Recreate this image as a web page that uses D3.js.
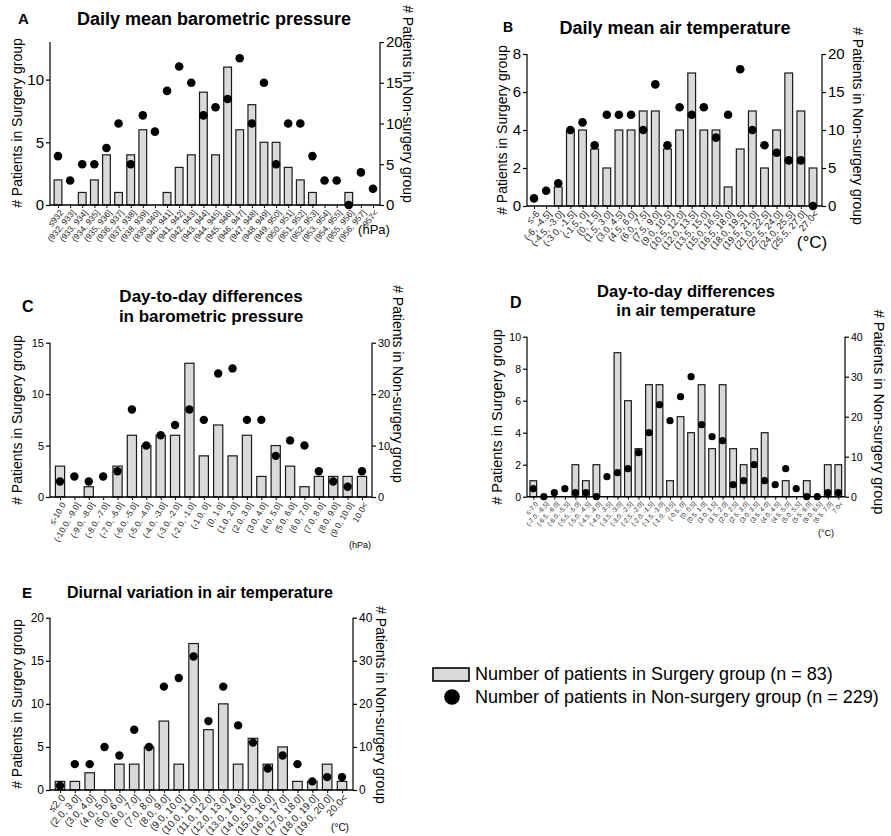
<!DOCTYPE html>
<html>
<head>
<meta charset="utf-8">
<title>Weather and patients</title>
<script src="https://cdn.jsdelivr.net/npm/d3@7"></script>
<style>
  body { margin: 0; background: #fff; }
  svg { font-family: "Liberation Sans", Arial, sans-serif; }
</style>
</head>
<body>
<svg id="chart" width="891" height="836"></svg>
<script>
// A: daily mean barometric pressure
var catsA = ["≤932", "(932, 933]", "(933, 934]", "(934, 935]", "(935, 936]", "(936, 937]", "(937, 938]",
  "(938, 939]", "(939, 940]", "(940, 941]", "(941, 942]", "(942, 943]", "(943, 944]", "(944, 945]",
  "(945, 946]", "(946, 947]", "(947, 948]", "(948, 949]", "(949, 950]", "(950, 951]", "(951, 952]",
  "(952, 953]", "(953, 954]", "(954, 955]", "(955, 956]", "(956, 957]", "957<"];
var surgeryA = [2, 0, 1, 2, 4, 1, 4, 6, 0, 1, 3, 4, 9, 4, 11, 6, 8, 5, 5, 3, 2, 1, 0, 0, 1, 0, 0];
var nonSurgeryA = [6, 3, 5, 5, 7, 10, 5, 11, 9, 14, 17, 15, 11, 12, 13, 18, 10, 15, 5, 10, 10, 6, 3, 3, 0, 4, 2];

// B: daily mean air temperature
var catsB = ["≤-6", "(-6, -4.5]", "(-4.5, -3.0]", "(-3.0, -1.5]", "(-1.5, 0]", "(0, 1.5]", "(1.5, 3.0]",
  "(3.0, 4.5]", "(4.5, 6.0]", "(6.0, 7.5]", "(7.5, 9.0]", "(9.0, 10.5]", "(10.5, 12.0]", "(12.0, 13.5]",
  "(13.5, 15.0]", "(15.0, 16.5]", "(16.5, 18.0]", "(18.0, 19.5]", "(19.5, 21.0]", "(21.0, 22.5]",
  "(22.5, 24.0]", "(24.0, 25.5]", "(25.5, 27.0]", "27.0<"];
var surgeryB = [0, 0, 1, 4, 4, 3, 2, 4, 4, 5, 5, 3, 4, 7, 4, 4, 1, 3, 5, 2, 4, 7, 5, 2];
var nonSurgeryB = [1, 2, 3, 10, 11, 8, 12, 12, 12, 10, 16, 8, 13, 12, 13, 9, 12, 18, 10, 8, 7, 6, 6, 0];

// C: day-to-day differences in barometric pressure
var catsC = ["≤-10.0", "(-10.0, -9.0]", "(-9.0, -8.0]", "(-8.0, -7.0]", "(-7.0, -6.0]", "(-6.0, -5.0]",
  "(-5.0, -4.0]", "(-4.0, -3.0]", "(-3.0, -2.0]", "(-2.0, -1.0]", "(-1.0, 0]", "(0, 1.0]", "(1.0, 2.0]",
  "(2.0, 3.0]", "(3.0, 4.0]", "(4.0, 5.0]", "(5.0, 6.0]", "(6.0, 7.0]", "(7.0, 8.0]", "(8.0, 9.0]",
  "(9.0, 10.0]", "10.0<"];
var surgeryC = [3, 0, 1, 0, 3, 6, 5, 6, 6, 13, 4, 7, 4, 6, 2, 5, 3, 1, 2, 2, 2, 2];
var nonSurgeryC = [3, 4, 3, 4, 5, 17, 10, 12, 14, 17, 15, 24, 25, 15, 15, 8, 11, 10, 5, 3, 2, 5];

// D: day-to-day differences in air temperature
var catsD = ["≤-7.0", "(-7.0, -6.5]", "(-6.5, -6.0]", "(-6.0, -5.5]", "(-5.5, -5.0]", "(-5.0, -4.5]",
  "(-4.5, -4.0]", "(-4.0, -3.5]", "(-3.5, -3.0]", "(-3.0, -2.5]", "(-2.5, -2.0]", "(-2.0, -1.5]",
  "(-1.5, -1.0]", "(-1.0, -0.5]", "(-0.5, 0]", "(0, 0.5]", "(0.5, 1.0]", "(1.0, 1.5]", "(1.5, 2.0]",
  "(2.0, 2.5]", "(2.5, 3.0]", "(3.0, 3.5]", "(3.5, 4.0]", "(4.0, 4.5]", "(4.5, 5.0]", "(5.0, 5.5]",
  "(5.5, 6.0]", "(6.0, 6.5]", "(6.5, 7.0]", "7.0<"];
var surgeryD = [1, 0, 0, 0, 2, 1, 2, 0, 9, 6, 3, 7, 7, 1, 5, 4, 7, 3, 7, 3, 2, 3, 4, 0, 1, 0, 1, 0, 2, 2];
var nonSurgeryD = [2, 0, 1, 2, 1, 1, 0, 5, 6, 7, 11, 16, 23, 19, 25, 30, 18, 15, 14, 3, 4, 8, 4, 3, 7, 2, 0, 0, 1, 1];

// E: diurnal variation in air temperature
var catsE = ["≤2.0", "(2.0, 3.0]", "(3.0, 4.0]", "(4.0, 5.0]", "(5.0, 6.0]", "(6.0, 7.0]", "(7.0, 8.0]",
  "(8.0, 9.0]", "(9.0, 10.0]", "(10.0, 11.0]", "(11.0, 12.0]", "(12.0, 13.0]", "(13.0, 14.0]",
  "(14.0, 15.0]", "(15.0, 16.0]", "(16.0, 17.0]", "(17.0, 18.0]", "(18.0, 19.0]", "(19.0, 20.0]", "20.0<"];
var surgeryE = [1, 1, 2, 0, 3, 3, 5, 8, 3, 17, 7, 10, 3, 6, 3, 5, 1, 1, 3, 1];
var nonSurgeryE = [1, 6, 6, 10, 8, 14, 10, 24, 26, 31, 16, 24, 15, 11, 5, 8, 6, 2, 3, 3];

var legendLabels = ["Number of patients in Surgery group (n = 83)",
                    "Number of patients in Non-surgery group (n = 229)"];

var svg = d3.select("#chart");

// 1 パネル分の棒 + 点グラフを描く
function drawPanel(p) {
  var g = svg.append("g");
  var x = d3.scalePoint().domain(p.cats).range([p.x0, p.x1]);
  var yL = d3.scaleLinear().domain([0, p.leftMax]).range([p.yBase, p.yTop]);
  var yR = d3.scaleLinear().domain([0, p.rightMax]).range([p.yBase, p.yTop]);
  var bw = x.step() * 0.64;

  var rows = p.cats.map(function (c, i) { return {c: c, s: p.surgery[i], n: p.nonSurgery[i]}; });

  g.append("g").selectAll("rect")
    .data(rows.filter(function (d) { return d.s > 0; }))
    .join("rect")
      .attr("x", function (d) { return x(d.c) - bw / 2; })
      .attr("y", function (d) { return yL(d.s); })
      .attr("width", bw)
      .attr("height", function (d) { return yL(0) - yL(d.s); })
      .attr("fill", "#d9d9d9")
      .attr("stroke", "#1a1a1a")
      .attr("stroke-width", 1.2);

  g.append("g").selectAll("circle")
    .data(rows)
    .join("circle")
      .attr("cx", function (d) { return x(d.c); })
      .attr("cy", function (d) { return yR(d.n); })
      .attr("r", p.r)
      .attr("fill", "#000");

  // 軸
  var axL = g.append("g")
    .attr("transform", "translate(" + p.axL + ",0)")
    .call(d3.axisLeft(yL).tickValues(p.leftTicks).tickSize(4).tickSizeOuter(0).tickPadding(2));
  var axR = g.append("g")
    .attr("transform", "translate(" + p.axR + ",0)")
    .call(d3.axisRight(yR).tickValues(p.rightTicks).tickSize(4).tickSizeOuter(0).tickPadding(2));
  [axL, axR].forEach(function (a) {
    a.selectAll("text").style("font-size", p.tickFont + "px").attr("fill", "#000")
      .style("font-family", "Liberation Sans, Arial, sans-serif");
    a.selectAll("line, path").attr("stroke", "#000").attr("stroke-width", 1.2);
  });
  axL.select(".domain").attr("d", "M0," + p.yTop + "V" + p.yBase);
  axR.select(".domain").attr("d", "M0," + p.yTop + "V" + p.yBase);

  var axB = g.append("g")
    .attr("transform", "translate(0," + p.yBase + ")")
    .call(d3.axisBottom(x).tickSize(3).tickSizeOuter(0));
  axB.select(".domain").attr("d", "M" + p.axL + ",0H" + p.axR).attr("stroke", "#000").attr("stroke-width", 1.5);
  axB.selectAll("line").attr("stroke", "#000");
  axB.selectAll("text")
    .attr("x", 0).attr("y", 0).attr("dy", "0.35em")
    .attr("transform", "translate(" + p.catShift + ") rotate(" + p.catAngle + ")")
    .style("text-anchor", "end")
    .style("font-size", p.catFont + "px")
    .style("font-family", "Liberation Sans, Arial, sans-serif")
    .attr("fill", "#222");

  // 軸ラベル
  g.append("text")
    .attr("transform", "translate(" + p.lblL[0] + "," + p.lblL[1] + ") rotate(-90)")
    .attr("text-anchor", "middle").attr("dy", "0.35em")
    .style("font-size", p.lblFont + "px")
    .text("# Patients in Surgery group");
  g.append("text")
    .attr("transform", "translate(" + p.lblR[0] + "," + p.lblR[1] + ") rotate(90)")
    .attr("text-anchor", "middle").attr("dy", "0.35em")
    .style("font-size", p.lblFont + "px")
    .text("# Patients in Non-surgery group");
  g.append("text")
    .attr("x", p.unit[0]).attr("y", p.unit[1])
    .attr("text-anchor", "middle")
    .style("font-size", p.unitFont + "px")
    .text(p.unitText);

  // タイトル
  p.title.forEach(function (t, i) {
    g.append("text")
      .attr("x", p.titlePos[0]).attr("y", p.titlePos[1] + i * p.titleLead)
      .attr("text-anchor", "middle")
      .style("font-size", p.titleFont + "px").style("font-weight", "bold")
      .text(t);
  });
  g.append("text")
    .attr("x", p.letterPos[0]).attr("y", p.letterPos[1])
    .style("font-size", p.letterFont + "px").style("font-weight", "bold")
    .text(p.letter);
}

drawPanel({
  letter: "A", letterPos: [18, 24], letterFont: 15,
  title: ["Daily mean barometric pressure"], titlePos: [214, 25], titleFont: 18, titleLead: 0,
  cats: catsA, surgery: surgeryA, nonSurgery: nonSurgeryA,
  x0: 58, x1: 373, axL: 50, axR: 380, yBase: 205, yTop: 42,
  leftMax: 13, rightMax: 20, leftTicks: [0, 5, 10], rightTicks: [0, 5, 10, 15, 20],
  tickFont: 15, catFont: 8.5, catAngle: -50, catShift: "3,6", r: 4.3,
  lblL: [17, 123], lblR: [408, 104], lblFont: 14,
  unit: [374, 234], unitText: "(hPa)", unitFont: 13
});

drawPanel({
  letter: "B", letterPos: [503, 32], letterFont: 14,
  title: ["Daily mean air temperature"], titlePos: [675, 34], titleFont: 18, titleLead: 0,
  cats: catsB, surgery: surgeryB, nonSurgery: nonSurgeryB,
  x0: 534, x1: 813, axL: 527, axR: 822, yBase: 206, yTop: 54,
  leftMax: 8, rightMax: 20, leftTicks: [0, 2, 4, 6, 8], rightTicks: [0, 5, 10, 15, 20],
  tickFont: 15, catFont: 9.5, catAngle: -48, catShift: "3,6", r: 4.3,
  lblL: [502, 130], lblR: [858, 126], lblFont: 14,
  unit: [812, 248], unitText: "(°C)", unitFont: 17
});

drawPanel({
  letter: "C", letterPos: [22, 312], letterFont: 16,
  title: ["Day-to-day differences", "in barometric pressure"], titlePos: [211, 302], titleFont: 17, titleLead: 20,
  cats: catsC, surgery: surgeryC, nonSurgery: nonSurgeryC,
  x0: 60, x1: 362, axL: 50, axR: 372, yBase: 497, yTop: 342.7,
  leftMax: 15, rightMax: 30, leftTicks: [0, 5, 10, 15], rightTicks: [0, 10, 20, 30],
  tickFont: 11, catFont: 8.5, catAngle: -60, catShift: "3,6", r: 4.2,
  lblL: [17, 420], lblR: [398, 384], lblFont: 14,
  unit: [360, 548], unitText: "(hPa)", unitFont: 9
});

drawPanel({
  letter: "D", letterPos: [510, 308], letterFont: 16,
  title: ["Day-to-day differences", "in air temperature"], titlePos: [686, 297], titleFont: 16.5, titleLead: 19,
  cats: catsD, surgery: surgeryD, nonSurgery: nonSurgeryD,
  x0: 533.3, x1: 838.3, axL: 527, axR: 845, yBase: 496.7, yTop: 336.7,
  leftMax: 10, rightMax: 40, leftTicks: [0, 2, 4, 6, 8, 10], rightTicks: [0, 10, 20, 30, 40],
  tickFont: 10.5, catFont: 6.5, catAngle: -48, catShift: "3,6", r: 3.6,
  lblL: [497, 417], lblR: [879, 412], lblFont: 14.5,
  unit: [826, 536], unitText: "(°C)", unitFont: 9
});

drawPanel({
  letter: "E", letterPos: [22, 598], letterFont: 15,
  title: ["Diurnal variation in air temperature"], titlePos: [200, 598], titleFont: 16, titleLead: 0,
  cats: catsE, surgery: surgeryE, nonSurgery: nonSurgeryE,
  x0: 60, x1: 342, axL: 50, axR: 353, yBase: 790, yTop: 617.7,
  leftMax: 20, rightMax: 40, leftTicks: [0, 5, 10, 15, 20], rightTicks: [0, 10, 20, 30, 40],
  tickFont: 12, catFont: 10, catAngle: -47, catShift: "3,6", r: 4.2,
  lblL: [17, 704], lblR: [381, 705], lblFont: 14,
  unit: [340, 831], unitText: "(°C)", unitFont: 10
});

// 凡例
var legend = svg.append("g").style("font-size", "18px");
legend.append("rect")
  .attr("x", 433).attr("y", 668).attr("width", 36).attr("height", 13)
  .attr("fill", "#d9d9d9").attr("stroke", "#000").attr("stroke-width", 1.6);
legend.append("circle").attr("cx", 452).attr("cy", 697).attr("r", 7.8).attr("fill", "#000");
legend.selectAll("text.lg")
  .data(legendLabels)
  .join("text")
    .attr("class", "lg")
    .attr("x", 475)
    .attr("y", function (d, i) { return 680 + i * 23; })
    .text(function (d) { return d; });
</script>
</body>
</html>
